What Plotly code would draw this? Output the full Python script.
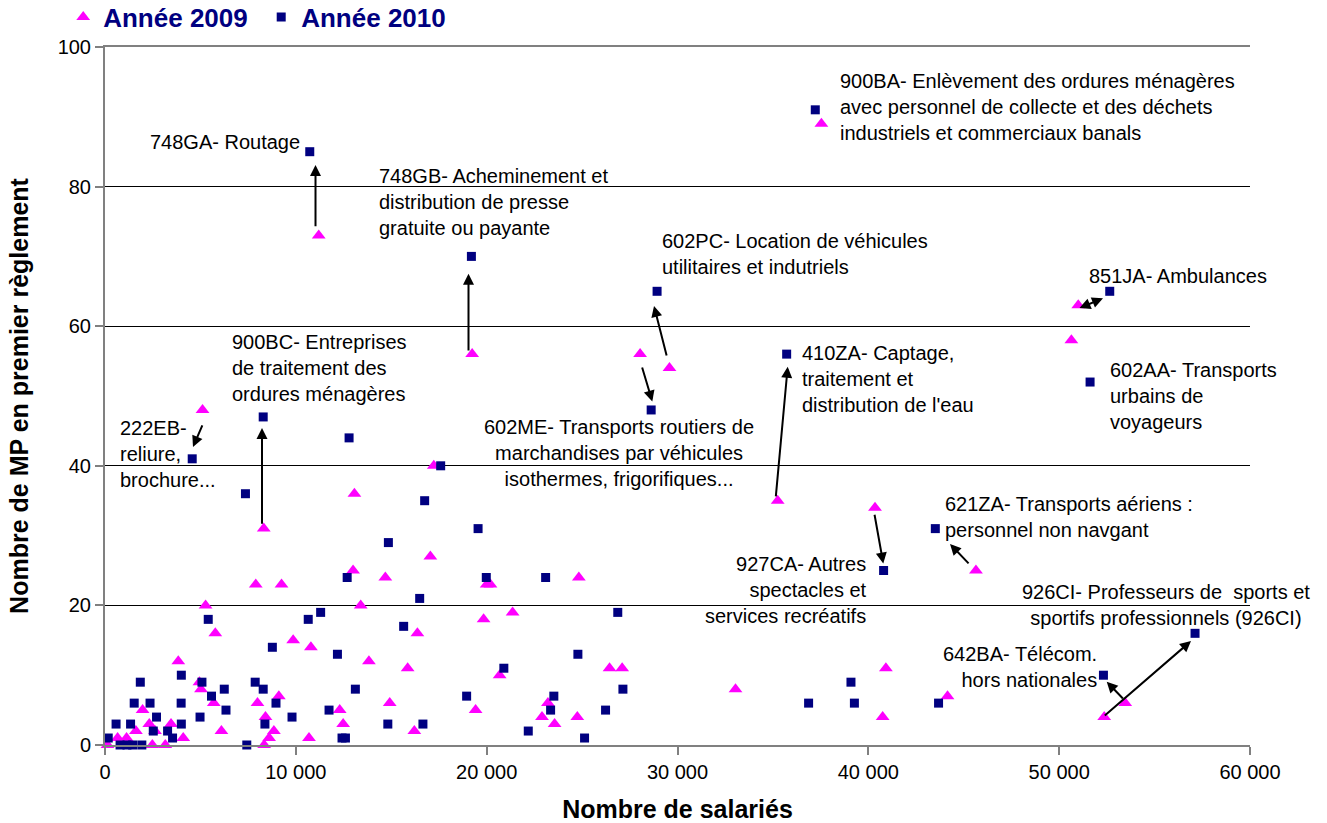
import plotly.graph_objects as go

FONT = "Liberation Sans, Arial, sans-serif"
NAVY = "#000080"
MAGENTA = "#FF00FF"

# ---- Data: Année 2009 (triangles) ----
x2009 = [11200, 19240, 37540, 29580, 51000, 50640, 35250, 8320, 5110, 28040, 45640, 40350, 52360, 53460,
         7900, 9250, 5270, 5780, 9860, 10790, 3840, 4950, 5030, 5700, 1970, 7990, 9110, 8410, 2320, 3460,
         1620, 2620, 6100, 8850, 8600, 10690, 660, 1130, 4100, 130, 960, 2480, 3160, 8340,
         13000, 14690, 17050, 20000, 20200, 24830, 13400, 19840, 21360, 16370, 13830, 15860, 20680, 26440,
         27100, 14920, 19420, 23210, 12300, 12480, 16210, 22900, 23560, 24750,
         17230, 13070, 33040, 40920, 40750, 44150]
y2009 = [73, 56, 89, 54, 63, 58, 35, 31, 48, 56, 25, 34, 4, 6,
         23, 23, 20, 16, 15, 14, 12, 9, 8, 6, 5, 6, 7, 4, 3, 3,
         2, 2, 2, 2, 1, 1, 1, 1, 1, 0, 0, 0, 0, 0,
         25, 24, 27, 23, 23, 24, 20, 18, 19, 16, 12, 11, 10, 11,
         11, 6, 5, 6, 5, 3, 2, 4, 3, 4,
         40, 36, 8, 11, 4, 7]

# ---- Data: Année 2010 (squares) ----
x2010 = [10730, 19200, 37220, 28930, 52650, 51620, 35720, 8290, 4570, 28620, 43510, 40800, 57120, 52320,
         5410, 10650, 11300, 8770, 4000, 1850, 5080, 7870, 6250, 8290, 5580, 1530, 2360, 3990, 6340, 8960,
         2700, 4980, 9800, 580, 1340, 4000, 8380, 2530, 3280, 170, 3540, 790, 1150, 1450, 1930, 7430, 11740,
         12690, 19980, 23090, 16490, 26870, 15650, 12180, 24780, 20900, 13120, 18950, 23520, 26230, 23350,
         14820, 16660, 22180, 12420, 12600, 25130, 27140,
         12790, 7360, 14850, 17590, 16750, 19550,
         36870, 39090, 39270, 43680]
y2010 = [85, 70, 91, 65, 65, 52, 56, 47, 41, 48, 31, 25, 16, 10,
         18, 18, 19, 14, 10, 9, 9, 9, 8, 8, 7, 6, 6, 6, 5, 6,
         4, 4, 4, 3, 3, 3, 3, 2, 2, 1, 1, 0, 0, 0, 0, 0, 5,
         24, 24, 24, 21, 19, 17, 13, 13, 11, 8, 7, 7, 5, 5,
         3, 3, 2, 1, 1, 1, 8,
         44, 36, 29, 40, 35, 31,
         6, 9, 6, 6]

x_ticks = [0, 10000, 20000, 30000, 40000, 50000, 60000]
y_ticks = [0, 20, 40, 60, 80, 100]

# ---- Labels (text, x, y, xanchor, align) ----
labels = [
    ("748GA- Routage", 10330, 86.4, "right", "right"),
    ("748GB- Acheminement et<br>distribution de presse<br>gratuite ou payante", 14250, 77.8, "left", "left"),
    ("900BA- Enlèvement des ordures ménagères<br>avec personnel de collecte et des déchets<br>industriels et commerciaux banals", 38410, 91.4, "left", "left"),
    ("602PC- Location de véhicules<br>utilitaires et indutriels", 29080, 70.3, "left", "left"),
    ("851JA- Ambulances", 51460, 67.2, "left", "left"),
    ("602AA- Transports<br>urbains de<br>voyageurs", 52560, 50.0, "left", "left"),
    ("410ZA- Captage,<br>traitement et<br>distribution de l'eau", 36420, 52.4, "left", "left"),
    ("900BC- Entreprises<br>de traitement des<br>ordures ménagères", 6550, 54.0, "left", "left"),
    ("222EB-<br>reliure,<br>brochure...", 680, 41.7, "left", "left"),
    ("602ME- Transports routiers de<br>marchandises par véhicules<br>isothermes, frigorifiques...", 26935, 41.8, "center", "center"),
    ("621ZA- Transports aériens :<br>personnel non navgant", 43910, 32.6, "left", "left"),
    ("927CA- Autres<br>spectacles et<br>services recréatifs", 40035, 22.2, "right", "right"),
    ("926CI- Professeurs de \u00a0sports et<br>sportifs professionnels (926CI)", 55600, 20.1, "center", "center"),
    ("642BA- Télécom.<br>hors nationales", 52090, 11.2, "right", "right"),
]

# ---- Arrows (tail x, tail y, head x, head y, double) ----
arrows = [
    (11031, 74.1, 11031, 83.1, False),
    (19048, 56.3, 19048, 67.5, False),
    (8227, 31.5, 8227, 45.4, False),
    (5135, 46.0, 4611, 42.7, False),
    (29450, 55.6, 28769, 62.9, False),
    (28124, 54.3, 28680, 49.2, False),
    (35146, 35.4, 35775, 54.2, False),
    (50987, 62.5, 52297, 64.0, True),
    (40312, 33.2, 40784, 26.0, False),
    (45328, 25.8, 44280, 28.8, False),
    (52313, 4.05, 56909, 14.9, False),
    (53414, 6.45, 52492, 9.07, False),
]

fig = go.Figure()
fig.add_trace(go.Scatter(
    x=x2009, y=y2009, mode="markers", name="Année 2009",
    marker=dict(symbol="triangle-up", size=12, color=MAGENTA, line=dict(width=0)),
    cliponaxis=False,
))
fig.add_trace(go.Scatter(
    x=x2010, y=y2010, mode="markers", name="Année 2010",
    marker=dict(symbol="square", size=9, color=NAVY, line=dict(width=0)),
    cliponaxis=False,
))

annotations = []
for text, x, y, xa, al in labels:
    annotations.append(dict(
        text=text, x=x, y=y, xref="x", yref="y", xanchor=xa, yanchor="middle",
        align=al, showarrow=False, font=dict(family=FONT, size=20, color="black"),
    ))
for tx, ty, hx, hy, dbl in arrows:
    a = dict(
        text="", x=hx, y=hy, ax=tx, ay=ty, xref="x", yref="y", axref="x", ayref="y",
        showarrow=True, arrowhead=2, arrowsize=1.1, arrowwidth=2, arrowcolor="black",
    )
    if dbl:
        a.update(arrowside="end+start", startarrowhead=2, startarrowsize=1.1)
    annotations.append(a)

fig.update_layout(
    width=1327, height=823,
    margin=dict(l=105, r=77, t=47, b=78, autoexpand=False),
    paper_bgcolor="white", plot_bgcolor="white",
    separators=", ",
    font=dict(family=FONT, size=20, color="black"),
    showlegend=True,
    legend=dict(
        orientation="h", x=-0.0365, xanchor="left", y=1.043, yanchor="middle",
        font=dict(family=FONT, size=26, color=NAVY, weight="bold"),
        entrywidth=153, entrywidthmode="pixels", bgcolor="rgba(0,0,0,0)",
    ),
    annotations=annotations,
)
fig.update_xaxes(
    range=[0, 60000], tickvals=x_ticks, tickformat=",d", automargin=False,
    showgrid=False, zeroline=False,
    showline=True, linecolor="#808080", linewidth=2, mirror=True,
    ticks="outside", ticklen=8, tickcolor="#808080", tickwidth=2,
    tickfont=dict(family=FONT, size=20, color="black"),
    title=dict(text="Nombre de salariés", font=dict(family=FONT, size=25, color="black", weight="bold"), standoff=18),
)
fig.update_yaxes(
    range=[0, 100], tickvals=y_ticks, automargin=False,
    showgrid=True, gridcolor="black", gridwidth=1, zeroline=False,
    showline=True, linecolor="#808080", linewidth=2,
    ticks="outside", ticklen=8, tickcolor="#808080", tickwidth=2,
    tickfont=dict(family=FONT, size=20, color="black"),
    title=dict(text="Nombre de MP en premier règlement", font=dict(family=FONT, size=25, color="black", weight="bold"), standoff=22),
)

fig.write_html("out.html", config={"displayModeBar": False},
               post_script="document.body.style.margin='0px';")
